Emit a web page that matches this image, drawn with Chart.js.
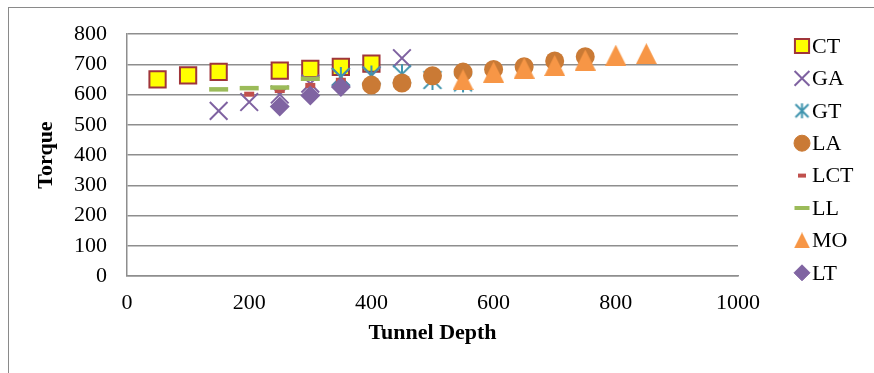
<!DOCTYPE html>
<html>
<head>
<meta charset="utf-8">
<script src="https://cdn.jsdelivr.net/npm/chart.js@4.4.1/dist/chart.umd.min.js"></script>
<style>
  html, body { margin: 0; padding: 0; background: #fff; }
  #wrap { position: relative; width: 874px; height: 373px; overflow: hidden; }
  #frame { position: absolute; left: 8px; top: 7px; width: 900px; height: 400px; border: 1.5px solid #8a8a8a; box-sizing: border-box; }
  #chart { position: absolute; left: 0; top: 0; }
</style>
</head>
<body>
<div id="wrap">
  <div id="frame"></div>
  <canvas id="chart" width="874" height="373"></canvas>
</div>
<script>
// Series data (Tunnel Depth -> Torque)
const depthCT = [50, 100, 150, 250, 300, 350, 400];
const torqueCT = [650, 663, 675, 679, 685, 691, 702];
const depthGA = [150, 200, 250, 300, 350, 400, 450];
const torqueGA = [546, 575, 600, 636, 658, 663, 720];
const depthGT = [350, 400, 450, 500, 550];
const torqueGT = [658, 663, 667, 648, 640];
const depthLA = [400, 450, 500, 550, 600, 650, 700, 750];
const torqueLA = [631, 638, 662, 674, 683, 692, 711, 725];
const depthLCT = [200, 250, 300, 350];
const torqueLCT = [601, 613, 630, 647];
const depthLL = [150, 200, 250, 300];
const torqueLL = [617, 621, 623, 652];
const depthMO = [550, 600, 650, 700, 750, 800, 850];
const torqueMO = [649, 674, 687, 696, 714, 730, 735];
const depthLT = [250, 300, 350];
const torqueLT = [560, 597, 625];

const xTicks = [0, 200, 400, 600, 800, 1000];
const yTicks = [0, 100, 200, 300, 400, 500, 600, 700, 800];

function pts(xs, ys) {
  return xs.map((x, i) => ({ x: x, y: ys[i] }));
}

// small canvases for markers Chart.js has no exact match for
function asterisk(size, color, d) {
  const c = document.createElement('canvas');
  c.width = size; c.height = size;
  const g = c.getContext('2d');
  g.strokeStyle = color;
  g.lineWidth = 2;
  const m = size / 2;
  g.beginPath();
  g.moveTo(m, 1); g.lineTo(m, size - 1);
  g.moveTo(m - d, m - d); g.lineTo(m + d, m + d);
  g.moveTo(m + d, m - d); g.lineTo(m - d, m + d);
  g.stroke();
  return c;
}
function triangle(size, color) {
  const c = document.createElement('canvas');
  c.width = size; c.height = size;
  const g = c.getContext('2d');
  g.fillStyle = color;
  g.beginPath();
  g.moveTo(size / 2, 0); g.lineTo(size, size); g.lineTo(0, size);
  g.closePath();
  g.fill();
  return c;
}

const tealGT = '#3f94ae';
const orangeMO = '#f79646';

const series = [
  { label: 'CT', data: pts(depthCT, torqueCT), pointStyle: 'rect', pointRadius: 11.5, backgroundColor: '#ffff00', borderColor: '#a0353a', borderWidth: 2,
    legend: { pointStyle: 'rect', radius: 10 } },
  { label: 'GA', data: pts(depthGA, torqueGA), pointStyle: 'crossRot', pointRadius: 12.5, backgroundColor: '#7f62a1', borderColor: '#7f62a1', borderWidth: 2,
    legend: { pointStyle: 'crossRot', radius: 10.5 } },
  { label: 'GT', data: pts(depthGT, torqueGT), pointStyle: asterisk(22, tealGT, 8.9), pointRadius: 10, backgroundColor: tealGT, borderColor: tealGT, borderWidth: 2,
    legend: { pointStyle: asterisk(17, tealGT, 6.5), radius: 8 } },
  { label: 'LA', data: pts(depthLA, torqueLA), pointStyle: 'circle', pointRadius: 9.5, backgroundColor: '#ca7a35', borderColor: '#ca7a35', borderWidth: 0,
    legend: { pointStyle: 'circle', radius: 8 } },
  { label: 'LCT', data: pts(depthLCT, torqueLCT), pointStyle: 'line', pointRadius: 5, backgroundColor: '#c0504d', borderColor: '#c0504d', borderWidth: 5,
    legend: { pointStyle: 'line', radius: 4, borderWidth: 4 } },
  { label: 'LL', data: pts(depthLL, torqueLL), pointStyle: 'line', pointRadius: 9.5, backgroundColor: '#9bbb59', borderColor: '#9bbb59', borderWidth: 4.5,
    legend: { pointStyle: 'line', radius: 7.5, borderWidth: 4 } },
  { label: 'MO', data: pts(depthMO, torqueMO), pointStyle: triangle(21, orangeMO), pointRadius: 10, backgroundColor: orangeMO, borderColor: orangeMO, borderWidth: 0,
    legend: { pointStyle: triangle(16, orangeMO), radius: 8 } },
  { label: 'LT', data: pts(depthLT, torqueLT), pointStyle: 'rectRot', pointRadius: 10, backgroundColor: '#8064a2', borderColor: '#8064a2', borderWidth: 0,
    legend: { pointStyle: 'rectRot', radius: 8 } }
];

// Excel draws later series on top
const datasets = series.map((s, i) => ({
  label: s.label,
  data: s.data,
  showLine: false,
  pointStyle: s.pointStyle,
  pointRadius: s.pointRadius,
  pointHoverRadius: s.pointRadius,
  pointBackgroundColor: s.backgroundColor,
  pointBorderColor: s.borderColor,
  pointBorderWidth: s.borderWidth,
  order: series.length - i
}));

const serif = "'Liberation Serif', 'Times New Roman', serif";
const gridGray = '#8e8e8e';

// legend drawn by hand on the right side
const sideLegend = {
  id: 'sideLegend',
  afterDraw(chart) {
    const ctx = chart.ctx;
    const x0 = 802, textX = 812, y0 = 46, step = 32.4;
    series.forEach((s, i) => {
      const y = y0 + i * step;
      ctx.save();
      ctx.fillStyle = s.backgroundColor;
      ctx.strokeStyle = s.borderColor;
      ctx.lineWidth = s.legend.borderWidth !== undefined ? s.legend.borderWidth : s.borderWidth;
      Chart.helpers.drawPoint(ctx, {
        pointStyle: s.legend.pointStyle,
        radius: s.legend.radius,
        borderWidth: ctx.lineWidth,
        rotation: 0
      }, x0, y);
      ctx.restore();
      ctx.save();
      ctx.fillStyle = '#000';
      ctx.font = '22px ' + serif;
      ctx.textBaseline = 'middle';
      ctx.textAlign = 'left';
      ctx.fillText(s.label, textX, y + 1);
      ctx.restore();
    });
  }
};

new Chart(document.getElementById('chart').getContext('2d'), {
  type: 'scatter',
  data: { datasets: datasets },
  plugins: [sideLegend],
  options: {
    responsive: false,
    animation: false,
    devicePixelRatio: 1,
    layout: { padding: { top: 34, right: 136, bottom: 0, left: 0 } },
    plugins: {
      legend: { display: false },
      tooltip: { enabled: false }
    },
    scales: {
      x: {
        type: 'linear',
        min: 0,
        max: 1000,
        afterFit(scale) { scale.height = 97; },
        afterBuildTicks(scale) { scale.ticks = xTicks.map(v => ({ value: v })); },
        grid: { display: false, drawTicks: false },
        border: { display: true, color: gridGray, width: 1.5 },
        ticks: { padding: 14, color: '#000', font: { family: serif, size: 22 }, callback: v => String(v) },
        title: { display: true, text: 'Tunnel Depth', color: '#000', padding: { top: 0, bottom: 26 },
          font: { family: serif, size: 22, weight: 'bold' } }
      },
      y: {
        type: 'linear',
        min: 0,
        max: 800,
        afterFit(scale) { scale.width = 127; },
        afterBuildTicks(scale) { scale.ticks = yTicks.map(v => ({ value: v })); },
        grid: { color: gridGray, lineWidth: 1.5, drawTicks: false },
        border: { display: true, color: gridGray, width: 1.5 },
        ticks: { padding: 20, color: '#000', font: { family: serif, size: 22 }, callback: v => String(v) },
        title: { display: true, text: 'Torque', color: '#000', padding: { top: 33, bottom: 0 },
          font: { family: serif, size: 22, weight: 'bold' } }
      }
    }
  }
});
</script>
</body>
</html>
